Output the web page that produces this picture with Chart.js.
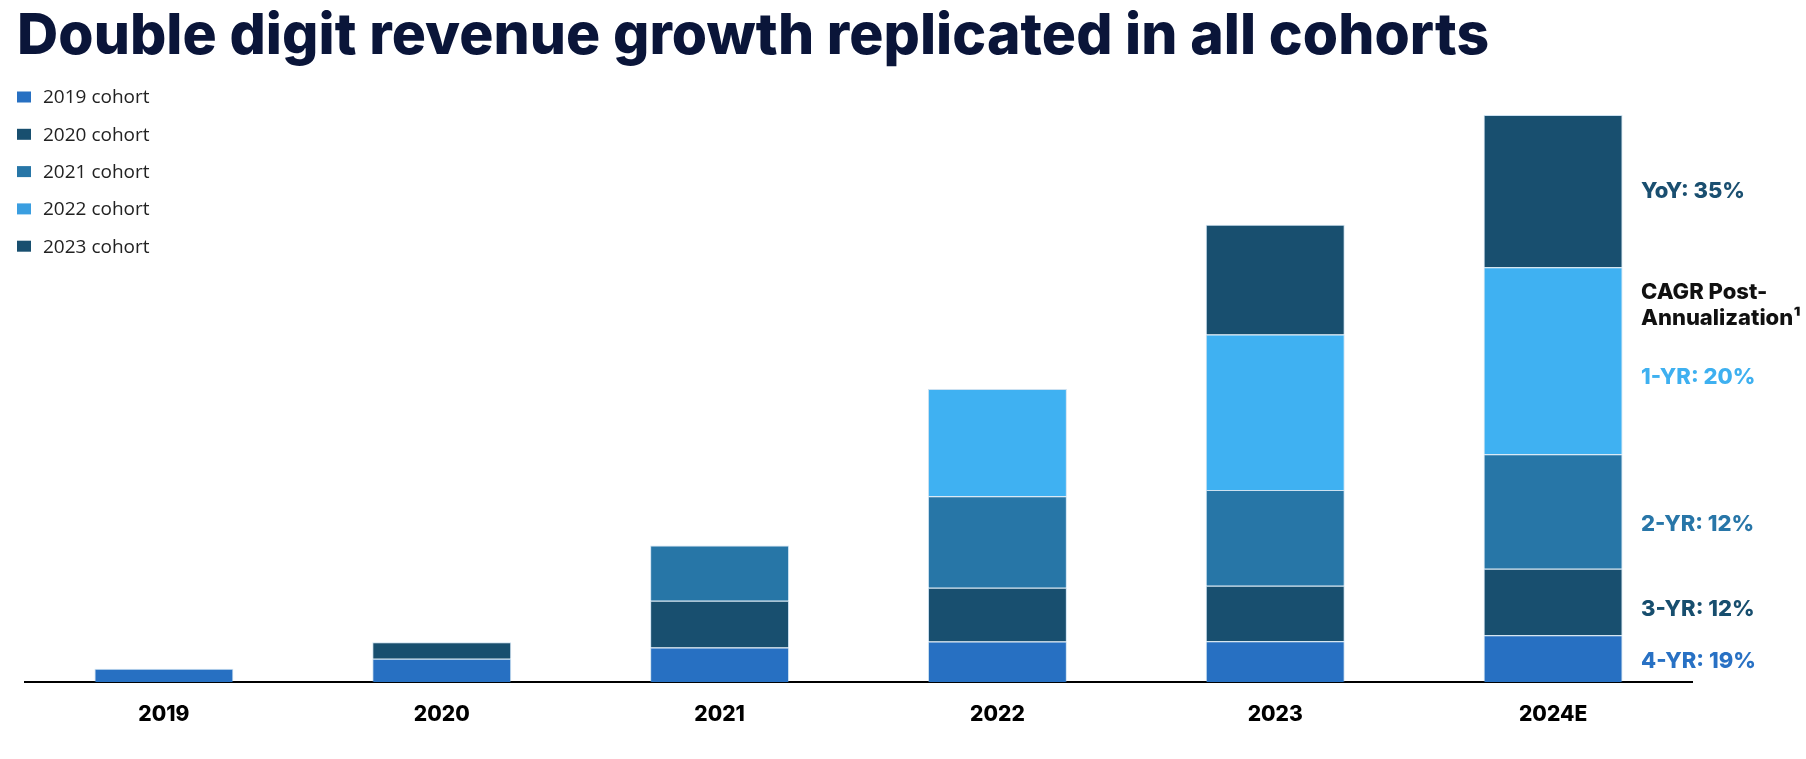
<!DOCTYPE html>
<html>
<head>
<meta charset="utf-8">
<script src="https://cdn.jsdelivr.net/npm/chart.js@4.4.1/dist/chart.umd.min.js"></script>
<style>
  html, body { margin: 0; padding: 0; background: #fff; }
  #wrap { width: 1806px; height: 759px; position: relative; }
</style>
</head>
<body>
<div id="wrap"><canvas id="chart"></canvas></div>
<script>
// categories and series (arbitrary revenue units)
const years = ['2019', '2020', '2021', '2022', '2023', '2024E'];
const cohortNames = ['2019 cohort', '2020 cohort', '2021 cohort', '2022 cohort', '2023 cohort'];
const cohort2019 = [13.5, 23.5, 34.8, 40.8, 41.2, 47.2];
const cohort2020 = [null, 16.7, 47.0, 54.0, 55.6, 66.6];
const cohort2021 = [null, null, 55.4, 91.7, 96.0, 114.7];
const cohort2022 = [null, null, null, 107.3, 155.7, 187.3];
const cohort2023 = [null, null, null, null, 110.0, 152.7];
const cohortColors = ['#2770c2', '#184f6f', '#2776a7', '#3fb1f2', '#184f6f'];
const legendColors = ['#2770c2', '#184f6f', '#2776a7', '#3a9ee0', '#184f6f'];

// growth notes shown next to the last bar, one per cohort segment (bottom to top)
const growthLabels = ['4-YR: 19%', '3-YR: 12%', '2-YR: 12%', '1-YR: 20%', 'YoY: 35%'];
const growthColors = ['#2871c4', '#174e6e', '#2876a8', '#3eb0f0', '#1a4f70'];
const titleText = 'Double digit revenue growth replicated in all cohorts';

const seriesValues = [cohort2019, cohort2020, cohort2021, cohort2022, cohort2023];

const data = {
    labels: years,
    datasets: seriesValues.map((vals, i) => ({
        label: cohortNames[i],
        data: vals,
        backgroundColor: cohortColors[i],
        borderColor: 'rgba(110,170,215,0.35)',
        borderWidth: 1,
        borderSkipped: 'bottom',
        barPercentage: 0.5,
        categoryPercentage: 1.0
    }))
};

// title, legend and side notes drawn on the canvas
const extrasPlugin = {
    id: 'extras',
    afterDraw(chart) {
        const ctx = chart.ctx;
        ctx.save();

        // title, fitted to the width of the original heading
        ctx.fillStyle = '#0a1539';
        ctx.font = '800 57px Inter, "Open Sans", sans-serif';
        ctx.textBaseline = 'alphabetic';
        ctx.textAlign = 'left';
        const targetW = 1472;
        const w = ctx.measureText(titleText).width;
        ctx.letterSpacing = ((targetW - w) / (titleText.length - 1)).toFixed(2) + 'px';
        ctx.fillText(titleText, 17, 54);
        ctx.letterSpacing = '0px';

        // legend
        ctx.font = '400 19px "Open Sans", Inter, sans-serif';
        ctx.textBaseline = 'middle';
        chart.data.datasets.forEach((ds, i) => {
            const y = 97 + i * 37.3;
            ctx.fillStyle = legendColors[i];
            ctx.fillRect(17, y - 5.5, 14, 11);
            ctx.fillStyle = '#222';
            ctx.fillText(ds.label, 43, y + 1);
        });

        // growth notes beside the last bar
        const last = years.length - 1;
        const x = 1641;
        const nudges = [3, 7, 13, 17, 0];
        let oneYrY = 0;
        ctx.font = '800 22px Inter, "Open Sans", sans-serif';
        chart.data.datasets.forEach((ds, i) => {
            const bar = chart.getDatasetMeta(i).data[last];
            if (!bar) return;
            const yc = (bar.y + bar.base) / 2 + nudges[i];
            if (i === 3) oneYrY = yc;
            ctx.fillStyle = growthColors[i];
            ctx.fillText(growthLabels[i], x, yc);
        });
        ctx.fillStyle = '#111';
        ctx.fillText('CAGR Post-', x, oneYrY - 85);
        ctx.fillText('Annualization\u00b9', x, oneYrY - 59);

        ctx.restore();
    }
};

const config = {
    type: 'bar',
    data: data,
    options: {
        responsive: true,
        maintainAspectRatio: false,
        animation: false,
        layout: {
            padding: { left: 25, right: 114, top: 100, bottom: 11.5 }
        },
        plugins: {
            legend: { display: false },
            title: { display: false },
            tooltip: { enabled: false }
        },
        scales: {
            x: {
                stacked: true,
                grid: { display: false, drawTicks: false },
                border: { display: true, color: '#000', width: 2 },
                ticks: {
                    color: '#000',
                    padding: 20,
                    font: { family: 'Inter, "Open Sans", sans-serif', size: 21, weight: '800' }
                }
            },
            y: {
                stacked: true,
                display: false,
                min: 0,
                max: 583.5
            }
        }
    },
    plugins: [extrasPlugin]
};

const chart = new Chart(document.getElementById('chart').getContext('2d'), config);
</script>
</body>
</html>
